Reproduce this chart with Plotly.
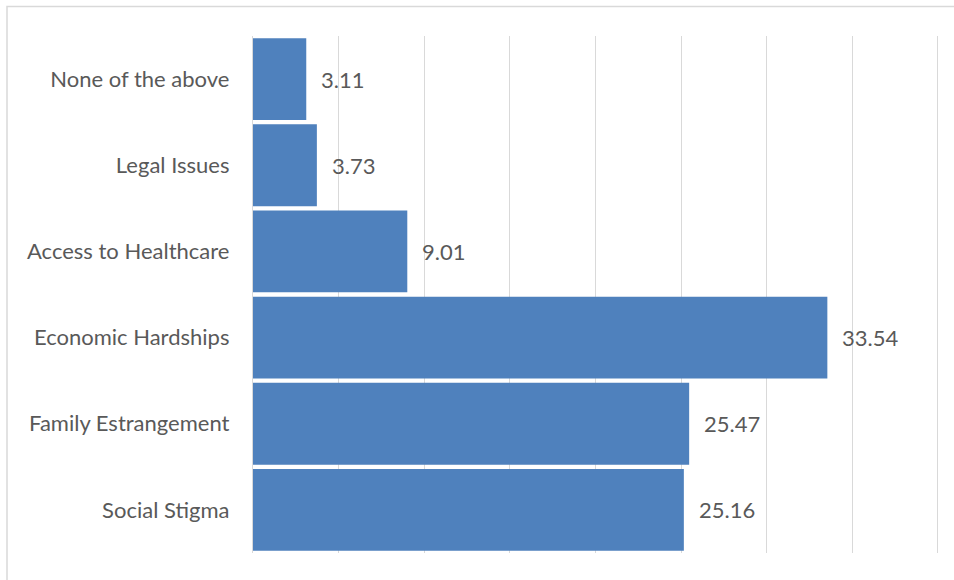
import plotly.graph_objects as go

categories = ["Social Stigma", "Family Estrangement", "Economic Hardships",
              "Access to Healthcare", "Legal Issues", "None of the above"]
values = [25.16, 25.47, 33.54, 9.01, 3.73, 3.11]

W, H = 954, 580
L, R, T, B = 253, 15, 36, 27

fig = go.Figure()
fig.add_trace(go.Bar(
    x=values, y=categories, orientation="h",
    marker=dict(color="#4F81BD", line=dict(width=0)),
    width=0.95, hoverinfo="skip",
))
for c, v in zip(categories, values):
    fig.add_annotation(x=v, y=c, text=f"{v:.2f}", showarrow=False,
                       xanchor="left", yanchor="middle", xshift=13, yshift=0,
                       font=dict(family="Lato", size=22, color="#595959"))

pw = W - L - R
ph = H - T - B
fig.add_shape(type="rect", xref="paper", yref="paper",
              x0=(7 - L) / pw, x1=1.2, y0=-0.2, y1=(H - B - 6.5) / ph,
              line=dict(color="#D9D9D9", width=1.5), fillcolor="rgba(0,0,0,0)", layer="below")

fig.update_layout(
    width=W, height=H,
    margin=dict(l=L, r=R, t=T, b=B),
    plot_bgcolor="white", paper_bgcolor="white",
    showlegend=False,
    bargap=0.05,
    xaxis=dict(range=[0, 40.06], dtick=5, showgrid=True, gridcolor="#D9D9D9", gridwidth=1.3,
               showticklabels=False, zeroline=False, showline=False, fixedrange=True),
    yaxis=dict(showline=True, linecolor="#D9D9D9", linewidth=1.3, ticks="",
               tickfont=dict(family="Lato", size=22, color="#595959"),
               ticklabelstandoff=18, fixedrange=True),
)
fig.write_html("out.html")
